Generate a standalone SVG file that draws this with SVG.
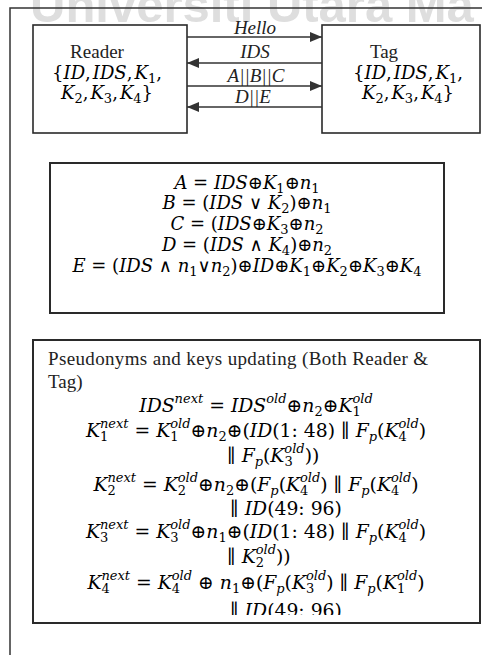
<svg xmlns="http://www.w3.org/2000/svg" width="482" height="655" viewBox="0 0 482 655">
<style>
.m{font-family:"DejaVu Serif",serif;font-size:18px;fill:#000}
.m3{font-size:18.8px}
.i{font-style:italic}
.s{font-size:13px}
.t{font-family:"Liberation Serif",serif;font-size:19px;fill:#222}
.lb{font-family:"Liberation Serif",serif;font-size:19px;font-style:italic;fill:#222}
.box{fill:#fff;stroke:#2a2a2a;stroke-width:1.6}
.box2{fill:#fff;stroke:#2a2a2a;stroke-width:2}
.frame{stroke:#333;stroke-width:1.5;fill:none}
.conn{stroke:#333;stroke-width:1.5;fill:none}
</style>
<defs>
<marker id="ah" viewBox="0 0 12 10" refX="12" refY="5" markerWidth="12" markerHeight="10" markerUnits="userSpaceOnUse" orient="auto">
<path d="M0,0 L12,5 L0,10 z" fill="#333"/>
</marker>
<clipPath id="c3"><rect x="33" y="340" width="447" height="275"/></clipPath>
</defs>
<rect width="482" height="655" fill="#fff"/>
<text x="30" y="22" font-family="Liberation Sans, sans-serif" font-weight="bold" font-size="49" fill="#dedede">Universiti Utara Ma</text>
<g id="frame">
<path class="frame" d="M10,655 V8 H482"/>
</g>
<g id="reader">
<rect class="box" x="33" y="25" width="154" height="108"/>
<text class="t" x="97" y="58" text-anchor="middle">Reader</text>
<text class="m" x="107" y="79" text-anchor="middle">{<tspan class="i">ID</tspan>,<tspan class="i" dx="2">IDS</tspan>,<tspan class="i" dx="2">K</tspan><tspan class="s" dy="4">1</tspan><tspan dy="-4">,</tspan></text>
<text class="m" x="107" y="99" text-anchor="middle"><tspan class="i">K</tspan><tspan class="s" dy="4">2</tspan><tspan dy="-4">,</tspan><tspan class="i" dx="2">K</tspan><tspan class="s" dy="4">3</tspan><tspan dy="-4">,</tspan><tspan class="i" dx="2">K</tspan><tspan class="s" dy="4">4</tspan><tspan dy="-4">}</tspan></text>
</g>
<g id="tag">
<rect class="box" x="322" y="25" width="158" height="108"/>
<text class="t" x="384" y="58" text-anchor="middle">Tag</text>
<text class="m" x="408" y="79" text-anchor="middle">{<tspan class="i">ID</tspan>,<tspan class="i" dx="2">IDS</tspan>,<tspan class="i" dx="2">K</tspan><tspan class="s" dy="4">1</tspan><tspan dy="-4">,</tspan></text>
<text class="m" x="408" y="99" text-anchor="middle"><tspan class="i">K</tspan><tspan class="s" dy="4">2</tspan><tspan dy="-4">,</tspan><tspan class="i" dx="2">K</tspan><tspan class="s" dy="4">3</tspan><tspan dy="-4">,</tspan><tspan class="i" dx="2">K</tspan><tspan class="s" dy="4">4</tspan><tspan dy="-4">}</tspan></text>
</g>
<g id="connectors">
<path class="conn" d="M187,37 H322" marker-end="url(#ah)"/>
<path class="conn" d="M322,63 H187" marker-end="url(#ah)"/>
<path class="conn" d="M187,86 H322" marker-end="url(#ah)"/>
<path class="conn" d="M322,107 H187" marker-end="url(#ah)"/>
<text class="lb" x="255" y="34" text-anchor="middle">Hello</text>
<text class="lb" x="255" y="58" text-anchor="middle">IDS</text>
<text class="lb" x="256" y="82" text-anchor="middle">A||B||C</text>
<text class="lb" x="253" y="103" text-anchor="middle">D||E</text>
</g>
<g id="equations">
<rect class="box2" x="50" y="163" width="394" height="150"/>
<text class="m" x="247" y="189" text-anchor="middle"><tspan class="i">A</tspan> = <tspan class="i">IDS</tspan>⊕<tspan class="i">K</tspan><tspan class="s" dy="4">1</tspan><tspan dy="-4">⊕</tspan><tspan class="i">n</tspan><tspan class="s" dy="4">1</tspan></text>
<text class="m" x="247" y="209" text-anchor="middle"><tspan class="i">B</tspan> = (<tspan class="i">IDS</tspan> ∨ <tspan class="i">K</tspan><tspan class="s" dy="4">2</tspan><tspan dy="-4">)⊕</tspan><tspan class="i">n</tspan><tspan class="s" dy="4">1</tspan></text>
<text class="m" x="247" y="230" text-anchor="middle"><tspan class="i">C</tspan> = (<tspan class="i">IDS</tspan>⊕<tspan class="i">K</tspan><tspan class="s" dy="4">3</tspan><tspan dy="-4">⊕</tspan><tspan class="i">n</tspan><tspan class="s" dy="4">2</tspan></text>
<text class="m" x="247" y="251" text-anchor="middle"><tspan class="i">D</tspan> = (<tspan class="i">IDS</tspan> ∧ <tspan class="i">K</tspan><tspan class="s" dy="4">4</tspan><tspan dy="-4">)⊕</tspan><tspan class="i">n</tspan><tspan class="s" dy="4">2</tspan></text>
<text class="m" x="247" y="272" text-anchor="middle"><tspan class="i">E</tspan> = (<tspan class="i">IDS</tspan> ∧ <tspan class="i">n</tspan><tspan class="s" dy="4">1</tspan><tspan dy="-4">∨</tspan><tspan class="i">n</tspan><tspan class="s" dy="4">2</tspan><tspan dy="-4">)⊕</tspan><tspan class="i">ID</tspan>⊕<tspan class="i">K</tspan><tspan class="s" dy="4">1</tspan><tspan dy="-4">⊕</tspan><tspan class="i">K</tspan><tspan class="s" dy="4">2</tspan><tspan dy="-4">⊕</tspan><tspan class="i">K</tspan><tspan class="s" dy="4">3</tspan><tspan dy="-4">⊕</tspan><tspan class="i">K</tspan><tspan class="s" dy="4">4</tspan></text>
</g>
<g id="updating">
<rect class="box2" x="33" y="340" width="447" height="283"/>
<g clip-path="url(#c3)">
<text class="t" x="48" y="365" textLength="380" font-size="19.5">Pseudonyms and keys updating (Both Reader &amp;</text>
<text class="t" x="48" y="388" font-size="19.5">Tag)</text>
<text class="m m3" x="256" y="412" text-anchor="middle"><tspan class="i">IDS</tspan><tspan class="s i" dy="-9">next</tspan><tspan dy="9"> = </tspan><tspan class="i">IDS</tspan><tspan class="s i" dy="-9">old</tspan><tspan dy="9">⊕</tspan><tspan class="i">n</tspan><tspan class="s" dy="4">2</tspan><tspan dy="-4">⊕</tspan><tspan class="i">K</tspan><tspan class="s" dy="4">1</tspan><tspan class="s i" dx="-8.3" dy="-13">old</tspan></text>
<text class="m m3" x="256" y="437" text-anchor="middle"><tspan class="i">K</tspan><tspan class="s" dy="4">1</tspan><tspan class="s i" dx="-8.3" dy="-13">next</tspan><tspan dy="9"> = </tspan><tspan class="i">K</tspan><tspan class="s" dy="4">1</tspan><tspan class="s i" dx="-8.3" dy="-13">old</tspan><tspan dy="9">⊕</tspan><tspan class="i">n</tspan><tspan class="s" dy="4">2</tspan><tspan dy="-4">⊕(</tspan><tspan class="i">ID</tspan>(1: 48) ∥ <tspan class="i">F</tspan><tspan class="s i" dy="4">p</tspan><tspan dy="-4">(</tspan><tspan class="i">K</tspan><tspan class="s" dy="4">4</tspan><tspan class="s i" dx="-8.3" dy="-13">old</tspan><tspan dy="9">)</tspan></text>
<text class="m m3" x="227" y="462">∥ <tspan class="i">F</tspan><tspan class="s i" dy="4">p</tspan><tspan dy="-4">(</tspan><tspan class="i">K</tspan><tspan class="s" dy="4">3</tspan><tspan class="s i" dx="-8.3" dy="-13">old</tspan><tspan dy="9">))</tspan></text>
<text class="m m3" x="256" y="491" text-anchor="middle"><tspan class="i">K</tspan><tspan class="s" dy="4">2</tspan><tspan class="s i" dx="-8.3" dy="-13">next</tspan><tspan dy="9"> = </tspan><tspan class="i">K</tspan><tspan class="s" dy="4">2</tspan><tspan class="s i" dx="-8.3" dy="-13">old</tspan><tspan dy="9">⊕</tspan><tspan class="i">n</tspan><tspan class="s" dy="4">2</tspan><tspan dy="-4">⊕(</tspan><tspan class="i">F</tspan><tspan class="s i" dy="4">p</tspan><tspan dy="-4">(</tspan><tspan class="i">K</tspan><tspan class="s" dy="4">4</tspan><tspan class="s i" dx="-8.3" dy="-13">old</tspan><tspan dy="9">) ∥ </tspan><tspan class="i">F</tspan><tspan class="s i" dy="4">p</tspan><tspan dy="-4">(</tspan><tspan class="i">K</tspan><tspan class="s" dy="4">4</tspan><tspan class="s i" dx="-8.3" dy="-13">old</tspan><tspan dy="9">)</tspan></text>
<text class="m m3" x="230" y="515">∥ <tspan class="i">ID</tspan>(49: 96)</text>
<text class="m m3" x="256" y="538" text-anchor="middle"><tspan class="i">K</tspan><tspan class="s" dy="4">3</tspan><tspan class="s i" dx="-8.3" dy="-13">next</tspan><tspan dy="9"> = </tspan><tspan class="i">K</tspan><tspan class="s" dy="4">3</tspan><tspan class="s i" dx="-8.3" dy="-13">old</tspan><tspan dy="9">⊕</tspan><tspan class="i">n</tspan><tspan class="s" dy="4">1</tspan><tspan dy="-4">⊕(</tspan><tspan class="i">ID</tspan>(1: 48) ∥ <tspan class="i">F</tspan><tspan class="s i" dy="4">p</tspan><tspan dy="-4">(</tspan><tspan class="i">K</tspan><tspan class="s" dy="4">4</tspan><tspan class="s i" dx="-8.3" dy="-13">old</tspan><tspan dy="9">)</tspan></text>
<text class="m m3" x="227" y="563">∥ <tspan class="i">K</tspan><tspan class="s" dy="4">2</tspan><tspan class="s i" dx="-8.3" dy="-13">old</tspan><tspan dy="9">))</tspan></text>
<text class="m m3" x="256" y="589" text-anchor="middle"><tspan class="i">K</tspan><tspan class="s" dy="4">4</tspan><tspan class="s i" dx="-8.3" dy="-13">next</tspan><tspan dy="9"> = </tspan><tspan class="i">K</tspan><tspan class="s" dy="4">4</tspan><tspan class="s i" dx="-8.3" dy="-13">old</tspan><tspan dy="9"> ⊕ </tspan><tspan class="i">n</tspan><tspan class="s" dy="4">1</tspan><tspan dy="-4">⊕(</tspan><tspan class="i">F</tspan><tspan class="s i" dy="4">p</tspan><tspan dy="-4">(</tspan><tspan class="i">K</tspan><tspan class="s" dy="4">3</tspan><tspan class="s i" dx="-8.3" dy="-13">old</tspan><tspan dy="9">) ∥ </tspan><tspan class="i">F</tspan><tspan class="s i" dy="4">p</tspan><tspan dy="-4">(</tspan><tspan class="i">K</tspan><tspan class="s" dy="4">1</tspan><tspan class="s i" dx="-8.3" dy="-13">old</tspan><tspan dy="9">)</tspan></text>
<text class="m m3" x="230" y="617">∥ <tspan class="i">ID</tspan>(49: 96)</text>
</g>
</g>
</svg>
